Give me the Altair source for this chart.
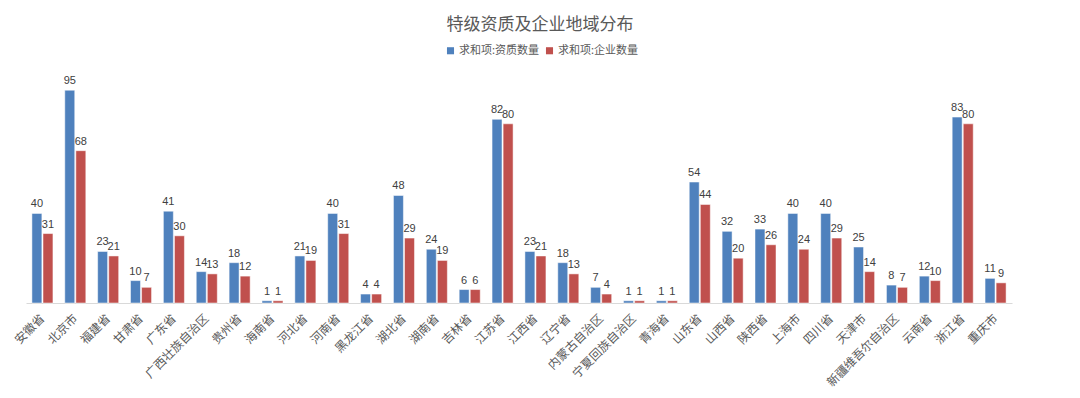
import altair as alt
import pandas as pd

provinces = ["安徽省", "北京市", "福建省", "甘肃省", "广东省", "广西壮族自治区", "贵州省", "海南省",
             "河北省", "河南省", "黑龙江省", "湖北省", "湖南省", "吉林省", "江苏省", "江西省",
             "辽宁省", "内蒙古自治区", "宁夏回族自治区", "青海省", "山东省", "山西省", "陕西省",
             "上海市", "四川省", "天津市", "新疆维吾尔自治区", "云南省", "浙江省", "重庆市"]
qual_counts = [40, 95, 23, 10, 41, 14, 18, 1, 21, 40, 4, 48, 24, 6, 82, 23, 18, 7, 1, 1,
               54, 32, 33, 40, 40, 25, 8, 12, 83, 11]
firm_counts = [31, 68, 21, 7, 30, 13, 12, 1, 19, 31, 4, 29, 19, 6, 80, 21, 13, 4, 1, 1,
               44, 20, 26, 24, 29, 14, 7, 10, 80, 9]
series_names = ["求和项:资质数量", "求和项:企业数量"]
colors = ["#4F81BD", "#C0504D"]

rows = []
for p, a, b in zip(provinces, qual_counts, firm_counts):
    rows.append({"省份": p, "系列": series_names[0], "数量": a})
    rows.append({"省份": p, "系列": series_names[1], "数量": b})
df = pd.DataFrame(rows)

FONT = "Noto Sans CJK SC"

x_enc = alt.X("省份:N", sort=provinces,
              scale=alt.Scale(paddingInner=0.36, paddingOuter=0.18),
              axis=alt.Axis(title=None, labelAngle=-45, labelAlign="right", labelBaseline="middle",
                            labelFont=FONT, labelFontSize=12, labelColor="#595959",
                            domainColor="#D9D9D9", ticks=False, labelPadding=13))
xoff = alt.XOffset("系列:N", sort=series_names, scale=alt.Scale(paddingInner=0.1))
y_enc = alt.Y("数量:Q", scale=alt.Scale(domain=[0, 100]), axis=None)

bars = alt.Chart(df).mark_bar(stroke="white", strokeWidth=0.5).encode(
    x=x_enc, xOffset=xoff, y=y_enc,
    color=alt.Color("系列:N", sort=series_names,
                    scale=alt.Scale(domain=series_names, range=colors),
                    legend=alt.Legend(orient="none", direction="horizontal", title=None,
                                      legendX=419, legendY=-34, symbolType="square",
                                      symbolSize=50, labelFont=FONT, labelFontSize=11,
                                      labelColor="#595959", columnPadding=4, symbolStrokeWidth=0,
                                      labelOffset=3)),
)

labels = alt.Chart(df).mark_text(dy=-9, fontSize=11, font="Liberation Sans", color="#404040").encode(
    x=alt.X("省份:N", sort=provinces), xOffset=xoff, y=y_enc, text="数量:Q"
)

chart = (bars + labels).properties(
    width=986, height=224,
    title=alt.TitleParams("特级资质及企业地域分布", font=FONT, fontSize=17, fontWeight="normal",
                          color="#595959", anchor="middle", dx=21, offset=11),
    autosize=alt.AutoSizeParams(type="none"),
    padding={"left": 18, "top": 71, "right": 60, "bottom": 87},
    background="white",
).configure_view(stroke=None)

chart.save("out.html", embed_options={"renderer": "svg", "actions": False})
